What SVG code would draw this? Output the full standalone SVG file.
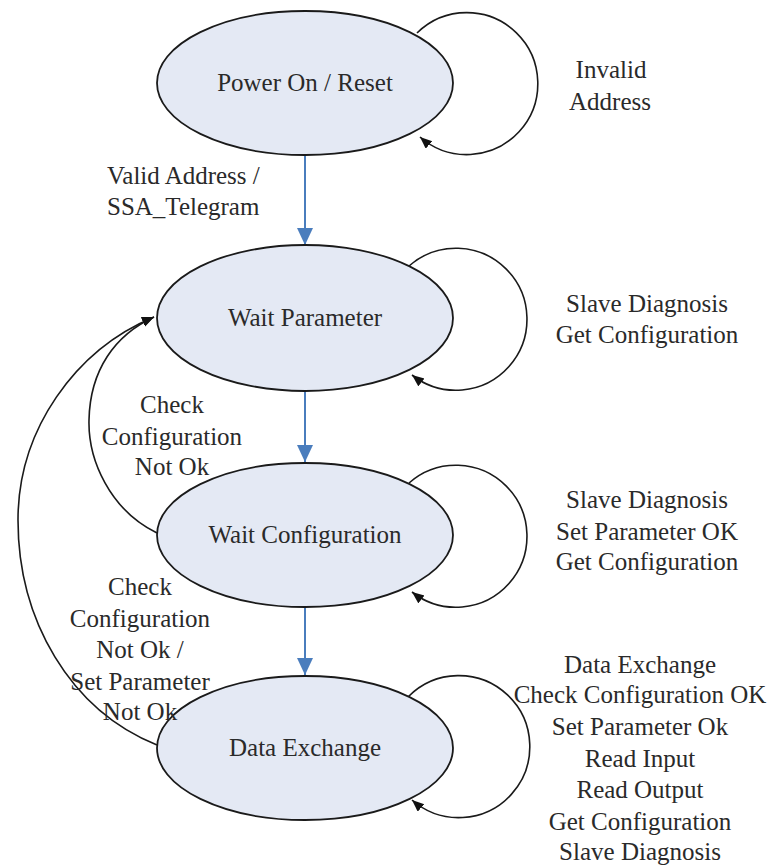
<svg xmlns="http://www.w3.org/2000/svg" width="777" height="868" viewBox="0 0 777 868">
<style>
.st{fill:#e4e9f4;stroke:#1a1a1a;stroke-width:1.8}
.lbl{font-family:"Liberation Serif","Times New Roman",serif;font-size:25px;fill:#2a2a2a;text-anchor:middle}
.blue{stroke:#4a7dbd;stroke-width:2;fill:none}
.blk{stroke:#1a1a1a;stroke-width:1.6;fill:none}
</style>
<defs>
<marker id="ab" markerUnits="userSpaceOnUse" markerWidth="18" markerHeight="18" refX="17" refY="8" orient="auto">
<path d="M0,0 L17,8 L0,16 z" fill="#4a7dbd"/>
</marker>
<marker id="ak" markerUnits="userSpaceOnUse" markerWidth="14" markerHeight="12" refX="12" refY="5" orient="auto">
<path d="M0,0 L12,5 L0,10 z" fill="#111"/>
</marker>
</defs>
<rect width="777" height="868" fill="#fff"/>
<g id="connectors">
<line class="blue" x1="305" y1="155" x2="305" y2="245" marker-end="url(#ab)"/>
<line class="blue" x1="305" y1="391" x2="305" y2="462" marker-end="url(#ab)"/>
<line class="blue" x1="305" y1="607" x2="305" y2="675" marker-end="url(#ab)"/>
<path class="blk" d="M417,33 A71,71 0 1 1 420,137" marker-end="url(#ak)"/>
<path class="blk" d="M409,266 A71,71 0 1 1 412,375" marker-end="url(#ak)"/>
<path class="blk" d="M409,483 A71,71 0 1 1 412,592" marker-end="url(#ak)"/>
<path class="blk" d="M408,697 A71,71 0 1 1 412,800" marker-end="url(#ak)"/>
<path class="blk" d="M157,533 C110,510 88,460 89,420 C90,370 115,335 154,317" marker-end="url(#ak)"/>
<path class="blk" d="M157,745 C70,710 18,620 18,520 C18,430 75,350 154,317" marker-end="url(#ak)"/>
</g>
<g id="power-on-reset">
<ellipse class="st" cx="305" cy="83" rx="148" ry="72"/>
<text class="lbl" x="305" y="91">Power On / Reset</text>
</g>
<g id="wait-parameter">
<ellipse class="st" cx="305" cy="318" rx="148" ry="73"/>
<text class="lbl" x="305" y="326">Wait Parameter</text>
</g>
<g id="wait-configuration">
<ellipse class="st" cx="305" cy="535" rx="148" ry="72"/>
<text class="lbl" x="305" y="543">Wait Configuration</text>
</g>
<g id="data-exchange">
<ellipse class="st" cx="305" cy="748" rx="148" ry="72"/>
<text class="lbl" x="305" y="756">Data Exchange</text>
</g>
<g id="edge-labels">
<text class="lbl" x="611" y="78">Invalid</text>
<text class="lbl" x="610" y="110">Address</text>
<text class="lbl" x="107" y="184" style="text-anchor:start">Valid Address /</text>
<text class="lbl" x="107" y="215" style="text-anchor:start">SSA_Telegram</text>
<text class="lbl" x="647" y="312">Slave Diagnosis</text>
<text class="lbl" x="647" y="343">Get Configuration</text>
<text class="lbl" x="172" y="413">Check</text>
<text class="lbl" x="172" y="445">Configuration</text>
<text class="lbl" x="172" y="475">Not Ok</text>
<text class="lbl" x="647" y="508">Slave Diagnosis</text>
<text class="lbl" x="647" y="540">Set Parameter OK</text>
<text class="lbl" x="647" y="570">Get Configuration</text>
<text class="lbl" x="140" y="595">Check</text>
<text class="lbl" x="140" y="627">Configuration</text>
<text class="lbl" x="140" y="658">Not Ok /</text>
<text class="lbl" x="140" y="690">Set Parameter</text>
<text class="lbl" x="140" y="720">Not Ok</text>
<text class="lbl" x="640" y="673">Data Exchange</text>
<text class="lbl" x="640" y="703">Check Configuration OK</text>
<text class="lbl" x="640" y="735">Set Parameter Ok</text>
<text class="lbl" x="640" y="767">Read Input</text>
<text class="lbl" x="640" y="798">Read Output</text>
<text class="lbl" x="640" y="830">Get Configuration</text>
<text class="lbl" x="640" y="860">Slave Diagnosis</text>
</g>
</svg>
